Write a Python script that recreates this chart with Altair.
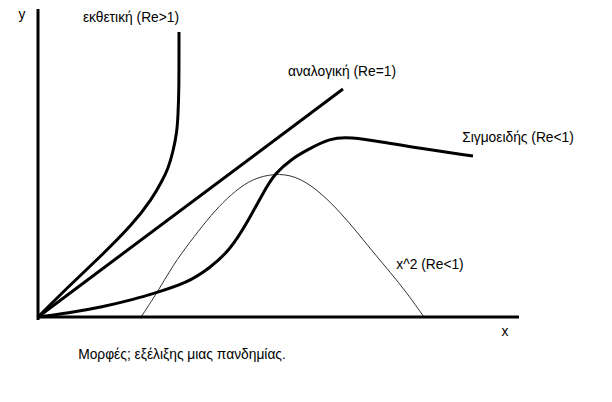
import altair as alt
import pandas as pd

# Curve points (data units; origin at the axes' corner)
exp_x = [0, 30, 62, 95, 114, 124, 130, 135, 139, 140, 141, 141]
exp_y = [0, 30, 60, 93, 118, 136, 148, 165, 185, 202, 225, 285]

lin_x = [0, 305]
lin_y = [0, 228]

sig_x = [0, 30, 64, 97, 117, 149, 172, 192, 209, 225, 237, 255, 269, 292, 312, 345, 379, 435]
sig_y = [0, 4, 10, 18, 24, 34, 49, 67, 94, 124, 144, 159, 167, 179, 180, 175, 169, 161]

par_x = [103, 119, 135, 152, 169, 185, 202, 219, 242, 262, 282, 302, 319, 335, 352, 369, 386]
par_y = [0, 24, 52, 75, 97, 115, 130, 140, 144, 139, 125, 105, 85, 65, 45, 24, 0]

# Axes extents
axis_x_min, axis_x_max = -1, 481
axis_y_min, axis_y_max = -3, 308

# Labels
label_text = ["y", "εκθετική (Re>1)", "αναλογική (Re=1)", "Σιγμοειδής (Re<1)",
              "x^2 (Re<1)", "x", "Μορφές; εξέλιξης μιας πανδημίας."]
label_x = [-16, 93, 304, 480, 392, 467, 144]
label_y = [302, 299, 245, 179, 52, -15, -38]

xs = alt.Scale(domain=[-38, 574], nice=False, zero=False)
ys = alt.Scale(domain=[-85, 317], nice=False, zero=False)


def curve(xv, yv, width, color="black"):
    df = pd.DataFrame({"x": xv, "y": yv, "i": list(range(len(xv)))})
    return alt.Chart(df).mark_line(
        color=color, strokeWidth=width, interpolate="basis", strokeCap="butt"
    ).encode(
        x=alt.X("x:Q", scale=xs, axis=None),
        y=alt.Y("y:Q", scale=ys, axis=None),
        order="i:O",
    )


axes_df = pd.DataFrame({
    "x": [0, axis_x_min],
    "x2": [0, axis_x_max],
    "y": [axis_y_min, 0],
    "y2": [axis_y_max, 0],
})
axes = alt.Chart(axes_df).mark_rule(color="black", strokeWidth=3).encode(
    x=alt.X("x:Q", scale=xs, axis=None),
    x2="x2:Q",
    y=alt.Y("y:Q", scale=ys, axis=None),
    y2="y2:Q",
)

labels_df = pd.DataFrame({"t": label_text, "x": label_x, "y": label_y})
labels = alt.Chart(labels_df).mark_text(
    font="Liberation Sans", fontSize=13.8, color="black", align="center", baseline="middle"
).encode(
    x=alt.X("x:Q", scale=xs, axis=None),
    y=alt.Y("y:Q", scale=ys, axis=None),
    text="t:N",
)

chart = alt.layer(
    curve(par_x, par_y, 1, "#333333"),
    curve(exp_x, exp_y, 3),
    curve(lin_x, lin_y, 3),
    curve(sig_x, sig_y, 3),
    axes,
    labels,
).properties(
    width=612, height=402, padding=0,
    autosize=alt.AutoSizeParams(type="none"),
).configure_view(stroke=None)

chart.save("out.html", embed_options={"renderer": "svg", "actions": False})
